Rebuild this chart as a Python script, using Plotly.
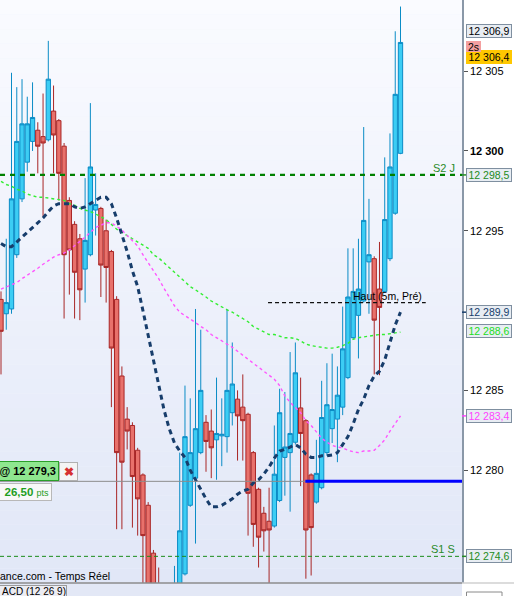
import plotly.graph_objects as go

# ---------------- data ----------------
candle_open = [12290.7, 12289.8, 12290.1, 12293.5, 12297.0, 12299.3, 12300.6, 12301.3, 12300.9, 12300.7,
               12302.5, 12301.9, 12300.3, 12296.9, 12295.4, 12294.5, 12292.6, 12293.5, 12296.3, 12296.4,
               12295.0, 12293.7, 12290.7, 12285.9, 12283.2, 12282.8, 12281.25, 12279.7, 12277.8, 12274.8,
               12272.5, 12271.8, 12271.0, 12271.0, 12272.5, 12273.5, 12277.8, 12279.5, 12281.1, 12283.0,
               12282.45, 12281.9, 12282.15, 12282.1, 12283.6, 12284.45, 12283.95, 12283.5, 12281.1, 12278.8,
               12277.3, 12276.8, 12276.5, 12278.1, 12280.8, 12281.1, 12281.75, 12283.9, 12283.1, 12279.7,
               12278.0, 12278.9, 12281.1, 12282.6, 12283.2, 12283.95, 12285.8, 12288.3, 12289.7, 12290.6,
               12293.05, 12293.25, 12291.35, 12291.2, 12293.25, 12296.1, 12299.85]
candle_high = [12291.2, 12294.5, 12304.9, 12304.0, 12304.5, 12303.4, 12304.3, 12301.8, 12303.6, 12306.9,
               12304.1, 12302.0, 12300.5, 12297.1, 12295.6, 12294.8, 12298.3, 12303.0, 12298.6, 12296.5,
               12295.7, 12293.8, 12290.9, 12286.5, 12283.95, 12283.0, 12281.4, 12279.8, 12278.0, 12275.0,
               12273.9, 12272.5, 12272.6, 12274.0, 12281.1, 12285.3, 12284.5, 12290.1, 12288.8, 12283.45,
               12283.8, 12285.8, 12284.5, 12290.1, 12288.0, 12285.0, 12286.0, 12283.6, 12281.2, 12278.9,
               12277.7, 12278.9, 12282.8, 12285.1, 12284.9, 12287.4, 12288.0, 12285.8, 12283.2, 12279.8,
               12281.9, 12285.6, 12286.7, 12287.3, 12286.5, 12290.25, 12293.9, 12293.9, 12294.5, 12301.5,
               12297.0, 12293.4, 12294.3, 12299.6, 12301.1, 12307.5, 12309.05]
candle_low = [12286.0, 12288.8, 12289.8, 12293.3, 12296.8, 12298.7, 12300.0, 12298.6, 12295.9, 12300.6,
              12298.6, 12296.9, 12289.5, 12291.0, 12289.5, 12289.4, 12290.5, 12293.4, 12294.7, 12290.85,
              12290.5, 12283.95, 12276.3, 12276.3, 12281.3, 12276.4, 12275.9, 12272.5, 12271.0, 12271.0,
              12270.5, 12270.0, 12270.0, 12270.5, 12272.0, 12273.4, 12277.7, 12275.4, 12281.0, 12279.9,
              12279.5, 12279.4, 12280.25, 12281.1, 12282.8, 12280.6, 12280.6, 12275.9, 12275.2, 12273.9,
              12274.9, 12272.9, 12276.4, 12278.0, 12278.4, 12277.4, 12281.6, 12279.0, 12273.2, 12273.4,
              12277.9, 12278.8, 12280.9, 12281.7, 12280.5, 12283.45, 12285.7, 12288.2, 12287.0, 12290.5,
              12289.8, 12286.0, 12285.95, 12291.1, 12293.1, 12296.0, 12299.8]
candle_close = [12288.7, 12290.5, 12297.0, 12300.6, 12301.7, 12301.7, 12302.1, 12300.3, 12300.5, 12304.5,
                12301.0, 12298.6, 12293.5, 12293.8, 12292.4, 12291.3, 12294.4, 12299.0, 12296.65, 12292.85,
                12292.7, 12287.65, 12281.1, 12280.5, 12282.45, 12279.6, 12278.2, 12275.9, 12272.0, 12272.3,
                12271.5, 12271.0, 12272.0, 12272.6, 12276.2, 12282.1, 12281.1, 12282.6, 12285.0, 12281.8,
                12281.4, 12282.3, 12282.25, 12285.0, 12285.4, 12283.4, 12283.1, 12278.55, 12276.6, 12275.8,
                12276.2, 12276.25, 12279.75, 12283.6, 12281.45, 12282.3, 12286.1, 12282.3, 12276.25, 12276.4,
                12279.8, 12283.3, 12284.1, 12283.8, 12284.7, 12287.6, 12290.85, 12291.2, 12291.35, 12295.65,
                12293.5, 12289.4, 12290.2, 12295.7, 12299.0, 12303.55, 12306.8]

ma_navy = [12294.2, 12294.0, 12294.0, 12294.3, 12294.6, 12294.9, 12295.2, 12295.5, 12295.8, 12296.2,
           12296.55, 12296.7, 12296.7, 12296.7, 12296.5, 12296.4, 12296.5, 12296.7, 12296.9, 12297.1,
           12297.1, 12296.7, 12295.8, 12294.8, 12293.7, 12292.5, 12291.5, 12290.0, 12288.4, 12286.8,
           12285.3, 12283.8, 12282.6, 12281.7, 12281.2, 12280.8, 12280.0, 12279.4, 12278.75, 12278.2,
           12277.7, 12277.7, 12277.8, 12278.0, 12278.2, 12278.5, 12278.7, 12278.8, 12279.2, 12279.4,
           12279.75, 12280.2, 12280.75, 12281.2, 12281.3, 12281.45, 12281.6, 12281.4, 12281.0, 12280.8,
           12280.8, 12280.9, 12280.9, 12280.95, 12281.1, 12281.6, 12282.1, 12282.9, 12283.8, 12284.45,
           12285.3, 12285.9, 12286.2, 12286.9, 12288.0, 12289.1, 12289.9]
ma_green = [12298.1, 12297.9, 12297.8, 12297.6, 12297.5, 12297.3, 12297.2, 12297.1, 12297.1, 12297.05,
            12297.0, 12296.95, 12296.9, 12296.7, 12296.6, 12296.4, 12296.3, 12296.2, 12296.05, 12295.9,
            12295.7, 12295.4, 12295.1, 12294.9, 12294.7, 12294.5, 12294.3, 12294.1, 12293.9, 12293.5,
            12293.3, 12293.0, 12292.7, 12292.35, 12292.1, 12291.8, 12291.5, 12291.3, 12291.1, 12290.85,
            12290.6, 12290.4, 12290.2, 12290.05, 12289.9, 12289.7, 12289.5, 12289.3, 12289.0, 12288.85,
            12288.7, 12288.5, 12288.5, 12288.4, 12288.3, 12288.3, 12288.25, 12288.1, 12287.9, 12287.8,
            12287.75, 12287.7, 12287.65, 12287.65, 12287.7, 12287.8, 12287.95, 12288.2, 12288.3, 12288.35,
            12288.4, 12288.45, 12288.5, 12288.5, 12288.55, 12288.6, 12288.65]
ma_magenta = [12291.35, 12291.5, 12291.6, 12291.75, 12292.0, 12292.2, 12292.45, 12292.65, 12292.9, 12293.15,
              12293.35, 12293.5, 12293.6, 12293.8, 12294.05, 12294.3, 12294.6, 12294.9, 12295.2, 12295.35,
              12295.5, 12295.5, 12295.3, 12295.05, 12294.7, 12294.4, 12294.05, 12293.5, 12293.0, 12292.5,
              12292.0, 12291.4, 12290.85, 12290.3, 12289.9, 12289.7, 12289.45, 12289.25, 12289.0, 12288.8,
              12288.5, 12288.3, 12288.15, 12287.9, 12287.7, 12287.45, 12287.2, 12286.95, 12286.7, 12286.45,
              12286.2, 12285.9, 12285.7, 12285.3, 12284.65, 12284.25, 12283.95, 12283.6, 12283.1, 12282.8,
              12282.4, 12282.0, 12281.75, 12281.55, 12281.45, 12281.4, 12281.25, 12281.15, 12281.1, 12281.2,
              12281.2, 12281.25, 12281.55, 12281.9, 12282.45, 12282.9, 12283.4]

y_tick_vals = [12280, 12285, 12295, 12300, 12305]
y_tick_text = ["12 280", "12 285", "12 295", "<b>12 300</b>", "12 305"]

level_s2j = 12298.5
level_s1s = 12274.6
level_haut = 12290.5
level_order = 12279.3
haut_span = [50.8, 80.8]        # candle-index extent of the "Haut (5m, Pré)" line
order_start = 57.9              # candle index where the blue order line starts

box_values = [12306.9, 12306.4, 12298.5, 12289.9, 12288.6, 12283.4, 12274.6]
box_texts = ["12 306,9", "12 306,4", "12 298,5", "12 289,9", "12 288,6", "12 283,4", "12 274,6"]

# ---------------- figure ----------------
W, H = 514, 596
ML, MR, MT, MB = 0, 52, 0, 13
PW = W - ML - MR
PH = H - MT - MB
x_idx = list(range(len(candle_open)))
x_range = [-0.19, 87.7]
y_range = [12272.93, 12309.46]
FONT = "Liberation Sans, Arial, sans-serif"

fig = go.Figure()
fig.add_trace(go.Candlestick(
    x=x_idx, open=candle_open, high=candle_high, low=candle_low, close=candle_close,
    increasing=dict(line=dict(color="#0b8cc6", width=1), fillcolor="#3ccdf4"),
    decreasing=dict(line=dict(color="#a82626", width=1), fillcolor="#e8716b"),
    whiskerwidth=0, showlegend=False, hoverinfo="skip"))

fig.add_trace(go.Scatter(x=x_idx, y=ma_green, mode="lines",
                         line=dict(color="#33ee33", width=1.4, dash="3px,3px"), showlegend=False))
fig.add_trace(go.Scatter(x=x_idx, y=ma_magenta, mode="lines",
                         line=dict(color="#ff55ff", width=1.4, dash="3px,3px"), showlegend=False))
fig.add_trace(go.Scatter(x=x_idx, y=ma_navy, mode="lines",
                         line=dict(color="#173d6b", width=3, dash="5px,4px"), showlegend=False))

shapes = []
# background gradient
N = 40
top = (250, 251, 255)
bot = (225, 231, 247)
for k in range(N):
    t = (k + 0.5) / N
    c = tuple(int(round(bot[j] + (top[j] - bot[j]) * t)) for j in range(3))
    shapes.append(dict(type="rect", xref="paper", yref="paper", x0=0, x1=1, y0=k / N, y1=(k + 1) / N,
                       fillcolor="rgb(%d,%d,%d)" % c, line=dict(width=0), layer="below"))
# bottom strip below plot
shapes.append(dict(type="rect", xref="paper", yref="paper", x0=0, x1=1, y0=-MB / PH, y1=0,
                   fillcolor="#e3e8f6", line=dict(width=0), layer="below"))
shapes.append(dict(type="line", xref="paper", yref="paper", x0=0, x1=1, y0=0, y1=0,
                   line=dict(color="#8c8c8c", width=1.5)))
shapes.append(dict(type="line", xref="paper", yref="paper", x0=1, x1=W / PW, y0=0, y1=0,
                   line=dict(color="#d0d0d0", width=1.5)))
shapes.append(dict(type="rect", xref="paper", yref="paper", x0=1 + 4.5 / PW, x1=1 + 40 / PW,
                   y0=-20 / PH, y1=-9 / PH, fillcolor="white", line=dict(color="#8a8a8a", width=1)))
# level lines
shapes.append(dict(type="line", xref="paper", yref="y", x0=0, x1=1, y0=level_s2j, y1=level_s2j,
                   line=dict(color="#008000", width=2.2, dash="5px,5px")))
shapes.append(dict(type="line", xref="paper", yref="y", x0=0, x1=1, y0=level_s1s, y1=level_s1s,
                   line=dict(color="#1a8c1a", width=1, dash="4px,3px")))
shapes.append(dict(type="line", xref="x", yref="y", x0=haut_span[0], x1=haut_span[1], y0=level_haut,
                   y1=level_haut, line=dict(color="#111111", width=1.2, dash="4px,3px")))
shapes.append(dict(type="line", xref="paper", yref="y", x0=0, x1=1, y0=level_order, y1=level_order,
                   line=dict(color="#8c8c8c", width=1)))
shapes.append(dict(type="line", xref="x", yref="y", x0=order_start, x1=x_range[1], y0=level_order,
                   y1=level_order, line=dict(color="#0000ff", width=3)))

box_styles = [
    dict(fg="#000000", bg="#e8edf3", bd="#7f8fa0", tick="#555555", shift=10),
    dict(fg="#000000", bg="#ffc800", bd="#ffc800", tick="#555555", shift=-8.5),
    dict(fg="#228b22", bg="#e8edf3", bd="#7f8fa0", tick="#228b22", shift=0),
    dict(fg="#173d6b", bg="#e8edf3", bd="#7f8fa0", tick="#173d6b", shift=0),
    dict(fg="#22dd22", bg="#e8edf3", bd="#7f8fa0", tick="#22dd22", shift=1.5),
    dict(fg="#ff44ff", bg="#e8edf3", bd="#7f8fa0", tick="#ff44ff", shift=0),
    dict(fg="#228b22", bg="#e8edf3", bd="#7f8fa0", tick="#228b22", shift=0),
]

annotations = []
for v, t, st in zip(box_values, box_texts, box_styles):
    annotations.append(dict(xref="paper", yref="y", x=1, y=v, xanchor="left", yanchor="middle",
                            xshift=4, yshift=st["shift"], text=t, showarrow=False,
                            font=dict(size=10.5, color=st["fg"], family=FONT), bgcolor=st["bg"],
                            bordercolor=st["bd"], borderwidth=1, borderpad=0, width=44, height=12))
    if st["shift"] == 0:
        shapes.append(dict(type="line", xref="paper", yref="y", x0=1, x1=1 + 4 / PW, y0=v, y1=v,
                           line=dict(color=st["tick"], width=1.5)))

# "2s" badge
annotations.append(dict(xref="paper", yref="paper", x=1, y=1 - 46.5 / PH, xanchor="left",
                        yanchor="middle", xshift=4, text="2s", showarrow=False,
                        font=dict(size=10.5, color="#000", family=FONT), bgcolor="#f4a0a0",
                        bordercolor="#f4a0a0", borderwidth=1, borderpad=0, width=13, height=9))
# level texts
annotations.append(dict(xref="paper", yref="y", x=1, y=level_s2j, xanchor="right", yanchor="bottom",
                        xshift=-6, text="S2 J", showarrow=False, borderpad=0,
                        font=dict(size=11, color="#2a8a2a", family=FONT)))
annotations.append(dict(xref="paper", yref="y", x=1, y=level_s1s, xanchor="right", yanchor="bottom",
                        xshift=-6, text="S1 S", showarrow=False, borderpad=0,
                        font=dict(size=11, color="#2a8a2a", family=FONT)))
annotations.append(dict(xref="x", yref="y", x=haut_span[1], y=level_haut, xanchor="right",
                        yanchor="bottom", xshift=-3, text="Haut (5m, Pré)", showarrow=False,
                        borderpad=0, font=dict(size=10.5, color="#000", family=FONT)))
# order widgets
annotations.append(dict(xref="paper", yref="y", x=58.7 / PW, y=level_order, xanchor="right",
                        yanchor="bottom", text="<b>@ 12 279,3</b>", showarrow=False, align="right",
                        font=dict(size=11, color="#000", family=FONT), bgcolor="#8fe78f",
                        bordercolor="#2aa02a", borderwidth=1, borderpad=2, width=70, height=14))
annotations.append(dict(xref="paper", yref="y", x=58.7 / PW, y=level_order, xanchor="left",
                        yanchor="bottom", text="<b>✖</b>", showarrow=False,
                        font=dict(size=12, color="#d63030"), bgcolor="#f4f4f4", bordercolor="#b0b0b0",
                        borderwidth=1, borderpad=1, width=15, height=15))
annotations.append(dict(xref="paper", yref="y", x=52.3 / PW, y=level_order, xanchor="right",
                        yanchor="top", yshift=-2, align="right",
                        text="<b>26,50</b> <span style='font-size:9px'>pts</span>", showarrow=False,
                        font=dict(size=11.5, color="#1e9e1e", family=FONT), bgcolor="#f8f8f8",
                        bordercolor="#b8b8b8", borderwidth=1, borderpad=2, width=60, height=12))
# bottom texts
annotations.append(dict(xref="paper", yref="paper", x=111 / PW, y=0, xanchor="right", yanchor="bottom",
                        text="ance.com - Temps Réel", showarrow=False, borderpad=0,
                        font=dict(size=10.5, color="#000", family=FONT)))
annotations.append(dict(xref="paper", yref="paper", x=66.7 / PW, y=-2 / PH, xanchor="right",
                        yanchor="top", text="ACD (12 26 9)", showarrow=False, align="right",
                        font=dict(size=10, color="#000", family=FONT), bgcolor="#ececf2",
                        bordercolor="#9a9a9a", borderwidth=1, borderpad=0, width=80, height=11))

fig.update_layout(
    width=W, height=H,
    margin=dict(l=ML, r=MR, t=MT, b=MB, pad=0),
    paper_bgcolor="white", plot_bgcolor="#eef2fc",
    font=dict(family=FONT, size=11, color="#000"),
    showlegend=False, boxgap=0.18, boxgroupgap=0,
    xaxis=dict(range=x_range, visible=False, rangeslider=dict(visible=False), fixedrange=True),
    yaxis=dict(range=y_range, side="right", showgrid=False, zeroline=False,
               tickvals=y_tick_vals, ticktext=y_tick_text, ticks="outside", ticklen=4,
               tickcolor="#555", tickfont=dict(size=11, color="#000", family=FONT),
               showline=True, linecolor="#8a98a8", linewidth=1.5, fixedrange=True),
    shapes=shapes, annotations=annotations,
)

fig.write_html("out.html", config={"displayModeBar": False},
               post_script="document.body.style.margin='0';document.body.style.overflow='hidden';")
